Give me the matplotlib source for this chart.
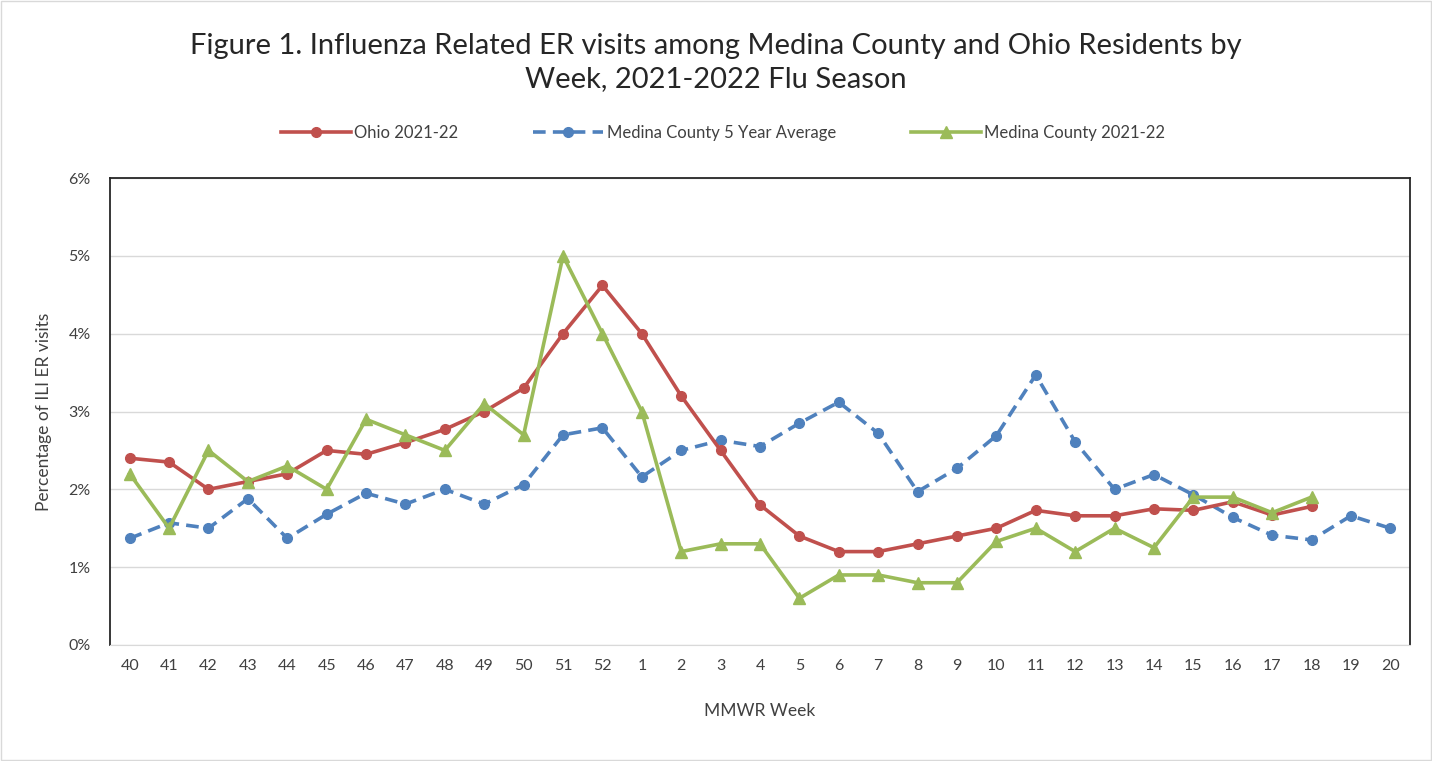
import matplotlib.pyplot as plt
from matplotlib.patches import Rectangle
from matplotlib.ticker import FuncFormatter

plt.rcParams['font.family'] = ['Lato', 'DejaVu Sans']

weeks = ['40', '41', '42', '43', '44', '45', '46', '47', '48', '49', '50', '51', '52',
         '1', '2', '3', '4', '5', '6', '7', '8', '9', '10', '11', '12', '13', '14',
         '15', '16', '17', '18', '19', '20']

ohio = [2.40, 2.35, 2.00, 2.10, 2.20, 2.50, 2.45, 2.60, 2.77, 3.00, 3.30, 4.00, 4.62,
        4.00, 3.20, 2.50, 1.80, 1.40, 1.20, 1.20, 1.30, 1.40, 1.50, 1.73, 1.66, 1.66,
        1.75, 1.73, 1.84, 1.67, 1.78]

medina_avg = [1.37, 1.57, 1.50, 1.88, 1.37, 1.68, 1.95, 1.81, 2.00, 1.81, 2.06, 2.70, 2.79,
              2.16, 2.50, 2.63, 2.55, 2.85, 3.12, 2.72, 1.97, 2.27, 2.69, 3.47, 2.61, 2.00,
              2.19, 1.93, 1.64, 1.41, 1.35, 1.66, 1.50]

medina = [2.20, 1.50, 2.50, 2.10, 2.30, 2.00, 2.90, 2.70, 2.50, 3.10, 2.70, 5.00, 4.00,
          3.00, 1.20, 1.30, 1.30, 0.60, 0.90, 0.90, 0.80, 0.80, 1.33, 1.50, 1.20, 1.50,
          1.25, 1.90, 1.90, 1.70, 1.90]

RED = '#C0504D'
BLUE = '#4F81BD'
GREEN = '#9BBB59'

fig = plt.figure(figsize=(14.32, 7.61), dpi=100)
ax = fig.add_axes([110 / 1432, 1 - 645 / 761, 1300 / 1432, 467 / 761])

x_all = list(range(len(weeks)))
ax.plot(x_all[:len(ohio)], ohio, color=RED, lw=2.6, marker='o', ms=7,
        label='Ohio 2021-22', zorder=3)
ax.plot(x_all[:len(medina_avg)], medina_avg, color=BLUE, lw=2.6, ls=(0, (3.5, 2)),
        marker='o', ms=7, label='Medina County 5 Year Average', zorder=2)
ax.plot(x_all[:len(medina)], medina, color=GREEN, lw=2.6, marker='^', ms=9,
        label='Medina County 2021-22', zorder=4)

ax.set_xlim(-0.5, len(weeks) - 0.5)
ax.set_ylim(0, 6)
ax.set_xticks(x_all)
ax.set_xticklabels(weeks)
ax.set_yticks(range(7))
ax.yaxis.set_major_formatter(FuncFormatter(lambda v, p: f'{int(v)}%'))
ax.tick_params(length=0, labelsize=11.5, colors='#404040', pad=10)
ax.tick_params(axis='y', pad=14)
ax.grid(axis='y', color='#d9d9d9', lw=1)
ax.set_axisbelow(True)

for side in ['left', 'top', 'right']:
    ax.spines[side].set_color('#262626')
    ax.spines[side].set_linewidth(1.3)
ax.spines['bottom'].set_color('#d9d9d9')

ax.set_xlabel('MMWR Week', fontsize=12.5, color='#404040', labelpad=22)
ax.set_ylabel('Percentage of ILI ER visits', fontsize=12.5, color='#404040', labelpad=12)

fig.suptitle('Figure 1. Influenza Related ER visits among Medina County and Ohio Residents by\nWeek, 2021-2022 Flu Season',
             y=0.956, fontsize=21, color='#262626', linespacing=1.3)

fig.legend(loc='center', bbox_to_anchor=(0.505, 1 - 133 / 761), ncol=3, frameon=False,
           fontsize=12, handlelength=4.2, columnspacing=4.5, handletextpad=0.2,
           labelcolor='#404040')

fig.add_artist(Rectangle((0.001, 0.001), 0.998, 0.998, transform=fig.transFigure,
                         fill=False, edgecolor='#d9d9d9', lw=1))

fig.savefig('out.png', dpi=100)
